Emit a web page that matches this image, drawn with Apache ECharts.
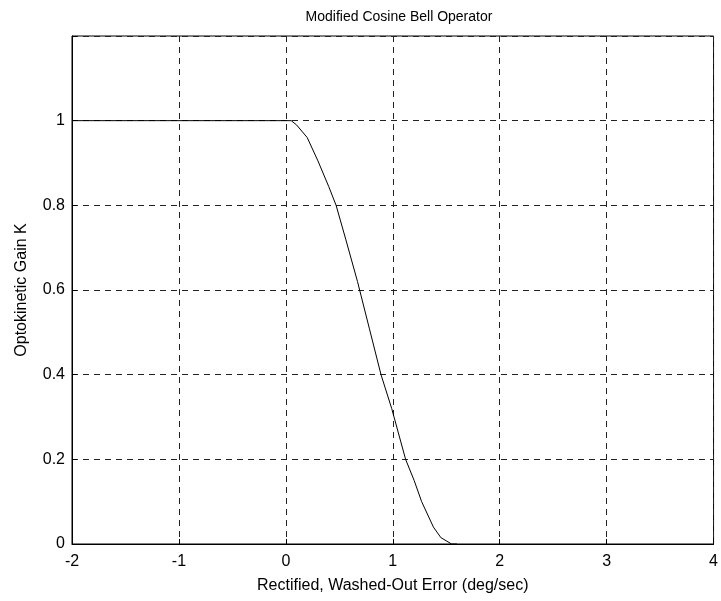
<!DOCTYPE html>
<html><head><meta charset="utf-8">
<script src="https://cdn.jsdelivr.net/npm/echarts@6/dist/echarts.min.js"></script>
<style>html,body{margin:0;padding:0;background:#fff}#c{width:721px;height:601px}</style>
</head><body><div id="c"></div>
<script>
const titleText = "Modified Cosine Bell Operator";
const xName = "Rectified, Washed-Out Error (deg/sec)";
const yName = "Optokinetic Gain K";
const errX = [-2, 0.05, 0.1, 0.2, 0.3, 0.4, 0.47, 0.56, 0.67, 0.78, 0.89, 0.99, 1.12, 1.2, 1.27, 1.38, 1.45, 1.55, 1.6];
const gainK = [1, 1, 0.99, 0.96, 0.905, 0.845, 0.80, 0.72, 0.62, 0.51, 0.40, 0.32, 0.20, 0.15, 0.10, 0.04, 0.015, 0.0, 0.0];
const xTicks = [-2, -1, 0, 1, 2, 3, 4];
const yTicks = [0, 0.2, 0.4, 0.6, 0.8, 1];

const font = "'Liberation Sans', Arial, sans-serif";
const chart = echarts.init(document.getElementById('c'), null, {renderer: 'canvas'});
chart.setOption({
  animation: false,
  backgroundColor: '#fff',
  title: {text: titleText, left: 394, top: 5, textAlign: 'center',
    textStyle: {fontFamily: font, fontSize: 14, fontWeight: 'normal', color: '#000'}},
  grid: {left: 72, right: 5, top: 36, bottom: 57, show: true, borderColor: '#000', borderWidth: 1},
  xAxis: {type: 'value', min: xTicks[0], max: xTicks[xTicks.length - 1], interval: 1,
    name: xName, nameLocation: 'middle', nameGap: 34,
    nameTextStyle: {fontFamily: font, fontSize: 16, color: '#000'},
    axisLine: {show: true, onZero: false, lineStyle: {color: '#000', width: 1}},
    axisTick: {show: true, inside: true, length: 5, lineStyle: {color: '#000'}},
    axisLabel: {fontFamily: font, fontSize: 16, color: '#000', margin: 10,
      formatter: v => xTicks.includes(v) ? String(v) : ''},
    splitLine: {show: true, lineStyle: {color: '#222', width: 1, type: [6, 5]}}},
  yAxis: {type: 'value', min: 0, max: 1.2, interval: 0.2,
    name: yName, nameLocation: 'middle', nameGap: 42, nameRotate: 90,
    nameTextStyle: {fontFamily: font, fontSize: 16, color: '#000'},
    axisLine: {show: true, onZero: false, lineStyle: {color: '#000', width: 1}},
    axisTick: {show: true, inside: true, length: 5, lineStyle: {color: '#000'}},
    axisLabel: {fontFamily: font, fontSize: 16, color: '#000', margin: 7,
      formatter: v => { const r = Math.round(v * 10) / 10; return yTicks.includes(r) ? String(r) : ''; }},
    splitLine: {show: true, lineStyle: {color: '#222', width: 1, type: [6, 5]}}},
  series: [{type: 'line', data: errX.map((x, i) => [x, gainK[i]]), showSymbol: false,
    lineStyle: {color: '#000', width: 1}, itemStyle: {color: '#000'}}]
});
</script></body></html>
